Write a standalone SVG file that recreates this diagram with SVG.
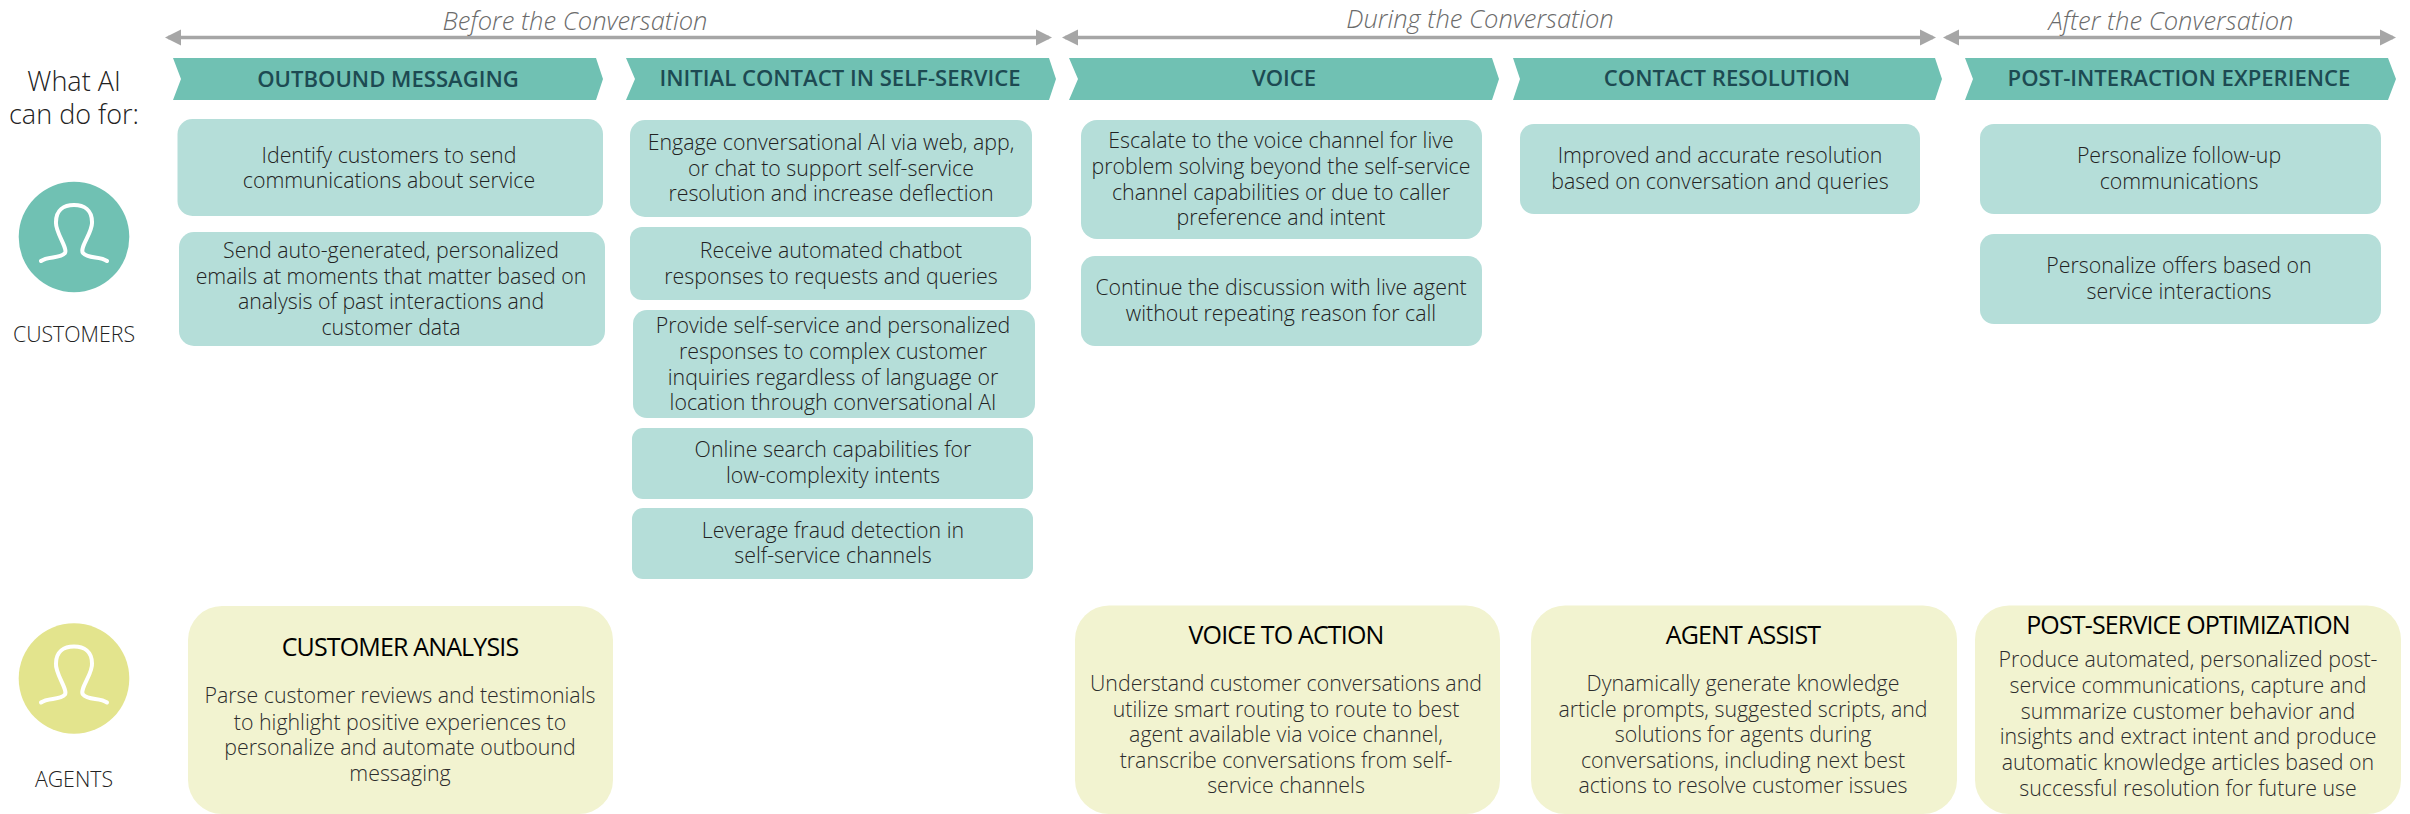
<svg xmlns="http://www.w3.org/2000/svg" width="2410" height="814" viewBox="0 0 2410 814">
<style>
text{font-family:"Open Sans","Noto Sans","Liberation Sans",sans-serif;text-anchor:middle}
.phase{font-size:25.500px;font-style:italic;font-weight:300;fill:#6b6b6b}
.ban{fill:#70c1b3}
.bt{font-size:22.100px;font-weight:600;fill:#1d4a52}
.box{fill:#b5ded9}
.ag{fill:#f2f3d0}
.t{font-size:21.330px;font-weight:300;fill:#222}
.at{font-size:21.330px;font-weight:300;fill:#2c2c2c}
.h{font-size:25px;font-weight:400;fill:#000;letter-spacing:-0.850px}
.lab{font-size:27px;font-weight:300;fill:#222}
.who{font-size:21.330px;font-weight:300;fill:#222}
.phl{stroke:#a6a6a6;stroke-width:3.500;fill:none;marker-start:url(#ah);marker-end:url(#ah)}
.ico{fill:none;stroke:#fff;stroke-width:4;stroke-linecap:round}
</style>
<defs>
<marker id="ah" markerUnits="userSpaceOnUse" markerWidth="18" markerHeight="18" refX="13" refY="9" orient="auto-start-reverse"><path d="M0,1 L16,9 L0,17 Z" fill="#a6a6a6"/></marker>
<path id="person" d="M-33,23.500 C-26,18.500 -14,21.500 -9,15.500 C-6,10.500 -19,-5.500 -18,-15.500 C-18,-27.500 -10,-32.500 0,-32.500 C10,-32.500 18,-27.500 18,-15.500 C19,-5.500 5,10.500 9,15.500 C14,21.500 26,18.500 33,23.500"/>
</defs>
<g id="connectors">
<line class="phl" x1="168" y1="37.500" x2="1049" y2="37.500"/>
<line class="phl" x1="1065" y1="37.500" x2="1933" y2="37.500"/>
<line class="phl" x1="1946" y1="37.500" x2="2393" y2="37.500"/>
</g>
<g id="phase-before"><text class="phase" x="575" y="30">Before the Conversation</text></g>
<g id="phase-during"><text class="phase" x="1480" y="28">During the Conversation</text></g>
<g id="phase-after"><text class="phase" x="2171" y="30">After the Conversation</text></g>
<g id="what-ai"><text class="lab" x="74" y="91">What AI</text><text class="lab" x="74" y="124">can do for:</text></g>
<g id="customers"><circle cx="74" cy="237" r="55.300" fill="#70c1b3"/><use href="#person" class="ico" x="74" y="237.500"/><text class="who" x="74" y="342">CUSTOMERS</text></g>
<g id="agents"><circle cx="74" cy="678.500" r="55.300" fill="#e3e48d"/><use href="#person" class="ico" x="74" y="679"/><text class="who" x="74" y="787">AGENTS</text></g>

<g id="ban-outbound"><path class="ban" d="M173,58 H596 L603,79 L596,100 H173 L181,79 Z"/><text class="bt" x="388" y="87">OUTBOUND MESSAGING</text></g>
<g id="ban-initial"><path class="ban" d="M626,58 H1049 L1056,79 L1049,100 H626 L635,79 Z"/><text class="bt" x="840" y="86">INITIAL CONTACT IN SELF-SERVICE</text></g>
<g id="ban-voice"><path class="ban" d="M1069,58 H1492 L1499,79 L1492,100 H1069 L1078,79 Z"/><text class="bt" x="1284" y="86">VOICE</text></g>
<g id="ban-resolution"><path class="ban" d="M1513,58 H1935 L1942,79 L1935,100 H1513 L1520,79 Z"/><text class="bt" x="1727" y="86">CONTACT RESOLUTION</text></g>
<g id="ban-post"><path class="ban" d="M1965,58 H2388 L2396,79 L2388,100 H1965 L1973,79 Z"/><text class="bt" x="2179" y="86">POST-INTERACTION EXPERIENCE</text></g>

<g id="b1"><rect class="box" x="177.500" y="119" width="425.500" height="97" rx="15"/><text class="t" x="389" y="162.500">Identify customers to send</text><text class="t" x="389" y="188">communications about service</text></g>
<g id="b2"><rect class="box" x="179" y="232" width="426" height="114" rx="15"/><text class="t" x="391" y="258">Send auto-generated, personalized</text><text class="t" x="391" y="284">emails at moments that matter based on</text><text class="t" x="391" y="309">analysis of past interactions and</text><text class="t" x="391" y="335">customer data</text></g>
<g id="c1"><rect class="box" x="630" y="120" width="402" height="97" rx="15"/><text class="t" x="831" y="150">Engage conversational AI via web, app,</text><text class="t" x="831" y="176">or chat to support self-service</text><text class="t" x="831" y="201">resolution and increase deflection</text></g>
<g id="c2"><rect class="box" x="630" y="227" width="401" height="73" rx="12"/><text class="t" x="831" y="258">Receive automated chatbot</text><text class="t" x="831" y="284">responses to requests and queries</text></g>
<g id="c3"><rect class="box" x="633" y="310" width="402" height="108" rx="14"/><text class="t" x="833" y="333">Provide self-service and personalized</text><text class="t" x="833" y="359">responses to complex customer</text><text class="t" x="833" y="385">inquiries regardless of language or</text><text class="t" x="833" y="410">location through conversational AI</text></g>
<g id="c4"><rect class="box" x="632" y="428" width="401" height="71" rx="11"/><text class="t" x="833" y="457">Online search capabilities for</text><text class="t" x="833" y="483">low-complexity intents</text></g>
<g id="c5"><rect class="box" x="632" y="508" width="401" height="71" rx="11"/><text class="t" x="833" y="538">Leverage fraud detection in</text><text class="t" x="833" y="563">self-service channels</text></g>
<g id="v1"><rect class="box" x="1081" y="120" width="401" height="119" rx="16"/><text class="t" x="1281" y="148">Escalate to the voice channel for live</text><text class="t" x="1281" y="174">problem solving beyond the self-service</text><text class="t" x="1281" y="200">channel capabilities or due to caller</text><text class="t" x="1281" y="225">preference and intent</text></g>
<g id="v2"><rect class="box" x="1081" y="256" width="401" height="90" rx="14"/><text class="t" x="1281" y="295">Continue the discussion with live agent</text><text class="t" x="1281" y="321">without repeating reason for call</text></g>
<g id="r1"><rect class="box" x="1520" y="124" width="400" height="90" rx="14"/><text class="t" x="1720" y="163">Improved and accurate resolution</text><text class="t" x="1720" y="189">based on conversation and queries</text></g>
<g id="p1"><rect class="box" x="1980" y="124" width="401" height="90" rx="14"/><text class="t" x="2179" y="163">Personalize follow-up</text><text class="t" x="2179" y="189">communications</text></g>
<g id="p2"><rect class="box" x="1980" y="234" width="401" height="90" rx="14"/><text class="t" x="2179" y="273">Personalize offers based on</text><text class="t" x="2179" y="299">service interactions</text></g>

<g id="a1"><rect class="ag" x="188" y="606" width="425" height="208" rx="34"/><text class="h" x="400" y="656">CUSTOMER ANALYSIS</text><text class="at" x="400" y="703">Parse customer reviews and testimonials</text><text class="at" x="400" y="730">to highlight positive experiences to</text><text class="at" x="400" y="755">personalize and automate outbound</text><text class="at" x="400" y="781">messaging</text></g>
<g id="a2"><rect class="ag" x="1075" y="605.500" width="425" height="208.500" rx="34"/><text class="h" x="1286" y="644">VOICE TO ACTION</text><text class="at" x="1286" y="691">Understand customer conversations and</text><text class="at" x="1286" y="717">utilize smart routing to route to best</text><text class="at" x="1286" y="742">agent available via voice channel,</text><text class="at" x="1286" y="768">transcribe conversations from self-</text><text class="at" x="1286" y="793">service channels</text></g>
<g id="a3"><rect class="ag" x="1531" y="605.500" width="426" height="208.500" rx="34"/><text class="h" x="1743" y="644">AGENT ASSIST</text><text class="at" x="1743" y="691">Dynamically generate knowledge</text><text class="at" x="1743" y="717">article prompts, suggested scripts, and</text><text class="at" x="1743" y="742">solutions for agents during</text><text class="at" x="1743" y="768">conversations, including next best</text><text class="at" x="1743" y="793">actions to resolve customer issues</text></g>
<g id="a4"><rect class="ag" x="1975" y="605.500" width="426" height="208.500" rx="34"/><text class="h" x="2188" y="634">POST-SERVICE OPTIMIZATION</text><text class="at" x="2188" y="667">Produce automated, personalized post-</text><text class="at" x="2188" y="693">service communications, capture and</text><text class="at" x="2188" y="719">summarize customer behavior and</text><text class="at" x="2188" y="744">insights and extract intent and produce</text><text class="at" x="2188" y="770">automatic knowledge articles based on</text><text class="at" x="2188" y="796">successful resolution for future use</text></g>
</svg>
